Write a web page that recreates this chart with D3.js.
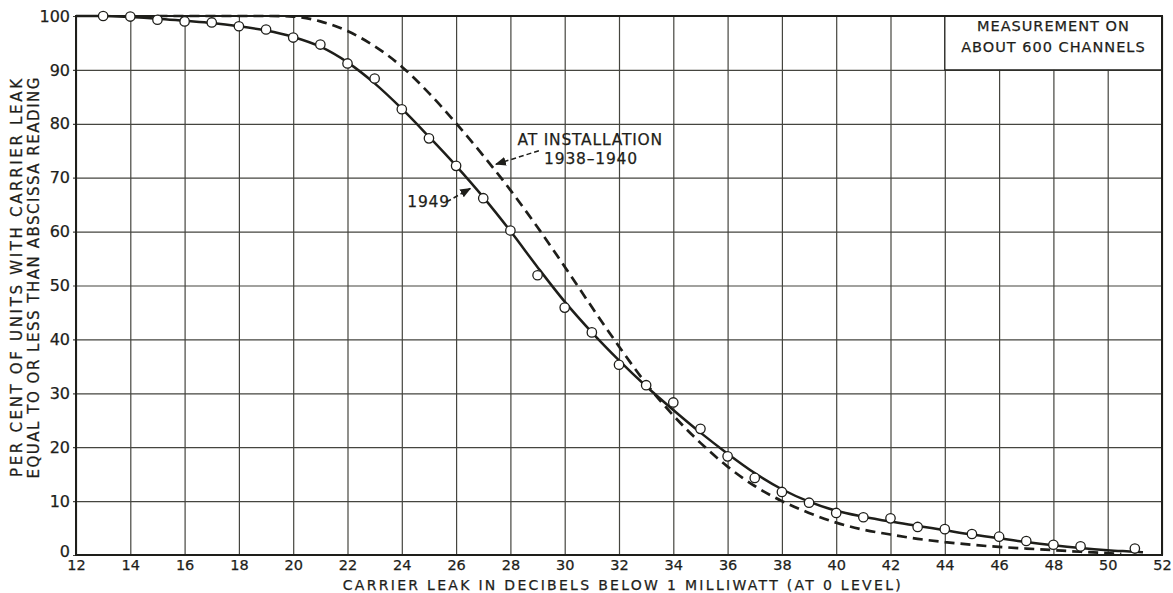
<!DOCTYPE html>
<html>
<head>
<meta charset="utf-8">
<script src="https://cdn.jsdelivr.net/npm/d3@7"></script>
<style>
  body { margin: 0; background: #fff; }
  svg text { font-family: "DejaVu Sans", sans-serif; fill: #1e1e1a; stroke: #1e1e1a; stroke-width: 0.25px; }
</style>
</head>
<body>
<div id="drawing"></div>
<script>
// measured points, 1949 survey
var pointDb = [13, 14, 15, 16, 17, 18, 19, 20, 21, 22, 23, 24, 25, 26, 27, 28, 29, 30, 31, 32,
               33, 34, 35, 36, 37, 38, 39, 40, 41, 42, 43, 44, 45, 46, 47, 48, 49, 51];
var pointPct = [100, 99.9, 99.3, 99.0, 98.8, 98.1, 97.5, 96.0, 94.7, 91.2, 88.4, 82.7, 77.3, 72.2, 66.2, 60.2,
                51.9, 45.9, 41.3, 35.3, 31.5, 28.3, 23.4, 18.3, 14.3, 11.7, 9.7, 7.8, 7.0, 6.8,
                5.2, 4.8, 3.9, 3.4, 2.6, 1.9, 1.6, 1.2];

// fitted solid curve, 1949
var fitDb = [12, 13, 14, 15, 16, 17, 18, 19, 20, 21, 22, 23, 24, 25, 26, 27, 28, 29, 30, 31,
             32, 33, 34, 35, 36, 37, 38, 39, 40, 41, 42, 43, 44, 45, 46, 47, 48, 49, 50, 51, 51.3];
var fitPct = [100, 100, 99.8, 99.5, 99.1, 98.7, 98.1, 97.3, 96.1, 94.3, 91.4, 87.5, 82.8, 77.6, 72.2, 66.4,
              60.1, 53.4, 47.0, 41.3, 36.1, 31.3, 26.9, 22.7, 18.8, 15.2, 12.2, 9.9, 8.2, 7.1,
              6.2, 5.4, 4.6, 3.8, 3.1, 2.4, 1.8, 1.3, 0.9, 0.6, 0.5];

// dashed curve, at installation 1938-1940
var instDb = [15, 18, 19, 20, 21, 22, 23, 24, 25, 26, 27, 28, 29, 30, 31, 32, 33, 34, 35, 36,
              37, 38, 39, 40, 41, 42, 43, 44, 45, 46, 47, 48, 49, 50, 50.5];
var instPct = [100, 100, 100, 99.9, 99.0, 97.2, 94.4, 90.6, 85.7, 80.1, 74.1, 67.7, 60.8, 53.5, 46.0, 38.7,
               31.8, 25.9, 20.8, 16.4, 12.8, 10.0, 7.8, 6.0, 4.7, 3.8, 3.0, 2.4, 1.9, 1.5, 1.2, 0.9,
               0.6, 0.35, 0.2];

var xTicks = d3.range(12, 53, 2);
var yTicks = d3.range(0, 101, 10);
var xTitle = "CARRIER LEAK IN DECIBELS BELOW 1 MILLIWATT (AT 0 LEVEL)";
var yTitle = ["PER CENT OF UNITS WITH CARRIER LEAK", "EQUAL TO OR LESS THAN ABSCISSA READING"];
var noteLines = ["MEASUREMENT ON", "ABOUT 600 CHANNELS"];

var W = 1173, H = 593;
var m = { left: 76, right: 11, top: 16, bottom: 38 };
var w = W - m.left - m.right, h = H - m.top - m.bottom;
var ink = "#1e1e1a";

var svg = d3.select("#drawing").append("svg").attr("width", W).attr("height", H);
var defs = svg.append("defs");
defs.append("marker")
    .attr("id", "head")
    .attr("viewBox", "0 0 10 10")
    .attr("refX", 9).attr("refY", 5)
    .attr("markerWidth", 11).attr("markerHeight", 11)
    .attr("markerUnits", "userSpaceOnUse")
    .attr("orient", "auto")
    .append("path").attr("d", "M0,1 L10,5 L0,9 Z").attr("fill", ink);

var g = svg.append("g").attr("transform", "translate(" + m.left + "," + m.top + ")");

var x = d3.scaleLinear().domain([12, 52]).range([0, w]);
var y = d3.scaleLinear().domain([0, 100]).range([h, 0]);

// grid + tick labels
var gx = g.append("g").attr("transform", "translate(0," + h + ")")
    .call(d3.axisBottom(x).tickValues(xTicks).tickSize(-h).tickPadding(5).tickFormat(d3.format("d")));
var gy = g.append("g")
    .call(d3.axisLeft(y).tickValues(yTicks).tickSize(-w).tickPadding(6).tickFormat(d3.format("d")));
[gx, gy].forEach(function (a) {
    a.select(".domain").remove();
    a.selectAll(".tick line").attr("stroke", "#45453f").attr("stroke-width", 1.2);
    a.selectAll(".tick text").attr("fill", ink);
});
gx.selectAll(".tick text").style("font-size", "14.5px");
gy.selectAll(".tick line").attr("x1", -3);
gy.selectAll(".tick text").style("font-size", "16px")
    .attr("dy", function (d) { return d === 0 ? "0.1em" : "0.32em"; });

// note box, covers grid
var bx0 = x(44), by0 = y(100), bx1 = x(52), by1 = y(90);
g.append("rect").attr("x", bx0).attr("y", by0).attr("width", bx1 - bx0).attr("height", by1 - by0)
    .attr("fill", "#fff").attr("stroke", ink).attr("stroke-width", 1.3);
g.selectAll(".note").data(noteLines).enter().append("text")
    .attr("class", "note")
    .attr("x", x(48)).attr("y", function (d, i) { return y(i ? 93.3 : 97.2); })
    .attr("text-anchor", "middle")
    .style("font-size", "14.5px").style("letter-spacing", "1px")
    .text(function (d) { return d; });

// frame
g.append("rect").attr("width", w).attr("height", h)
    .attr("fill", "none").attr("stroke", ink).attr("stroke-width", 2);

var line = d3.line().curve(d3.curveMonotoneX)
    .x(function (d) { return x(d[0]); }).y(function (d) { return y(d[1]); });

g.append("path").datum(d3.zip(instDb, instPct))
    .attr("d", line).attr("fill", "none").attr("stroke", ink)
    .attr("stroke-width", 2.7).attr("stroke-dasharray", "10,6");

g.append("path").datum(d3.zip(fitDb, fitPct))
    .attr("d", line).attr("fill", "none").attr("stroke", ink).attr("stroke-width", 2.5);

g.selectAll(".pt").data(d3.zip(pointDb, pointPct)).enter().append("circle")
    .attr("class", "pt")
    .attr("cx", function (d) { return x(d[0]); }).attr("cy", function (d) { return y(d[1]); })
    .attr("r", 4.7).attr("fill", "#fff").attr("stroke", ink).attr("stroke-width", 1.3);

// annotations
function label(t, dx, pct, size) {
    g.append("text").attr("x", x(dx)).attr("y", y(pct))
        .style("font-size", size + "px").style("letter-spacing", "0.8px").text(t);
}
function arrow(a, b) {
    g.append("line").attr("x1", x(a[0])).attr("y1", y(a[1])).attr("x2", x(b[0])).attr("y2", y(b[1]))
        .attr("stroke", ink).attr("stroke-width", 1.5).attr("stroke-dasharray", "5,3")
        .attr("marker-end", "url(#head)");
}
label("AT INSTALLATION", 28.26, 76.0, 15.5);
label("1938\u20131940", 29.24, 72.6, 15.5);
label("1949", 24.2, 64.5, 15.5);
arrow([29.05, 75.0], [27.47, 72.5]);
arrow([25.65, 65.5], [26.52, 68.0]);

// axis titles
svg.append("text").attr("x", m.left + x(32.1)).attr("y", 589.5)
    .attr("text-anchor", "middle").style("font-size", "14px")
    .attr("textLength", 558).attr("lengthAdjust", "spacing").text(xTitle);
svg.selectAll(".ytitle").data(yTitle).enter().append("text")
    .attr("class", "ytitle")
    .attr("transform", function (d, i) { return "translate(" + (i ? 39 : 22) + ",278) rotate(-90)"; })
    .attr("text-anchor", "middle").style("font-size", "15px")
    .attr("textLength", function (d, i) { return i ? 401 : 398; }).attr("lengthAdjust", "spacing")
    .text(function (d) { return d; });
</script>
</body>
</html>
